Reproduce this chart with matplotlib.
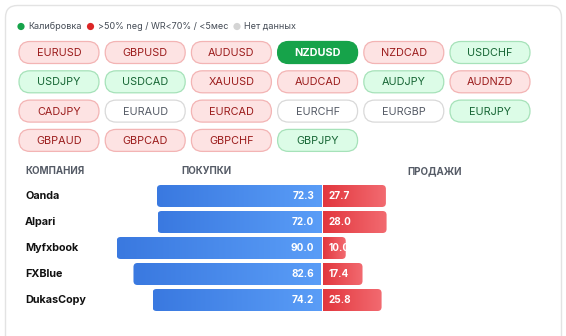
import numpy as np
import matplotlib
matplotlib.use("Agg")
import matplotlib.pyplot as plt
from matplotlib.patches import FancyBboxPatch, Circle
from matplotlib.colors import LinearSegmentedColormap
from matplotlib import transforms

plt.rcParams["font.family"] = ["Inter", "DejaVu Sans"]

# pair selector: name and state
pairs = [
    "EURUSD", "GBPUSD", "AUDUSD", "NZDUSD", "NZDCAD", "USDCHF",
    "USDJPY", "USDCAD", "XAUUSD", "AUDCAD", "AUDJPY", "AUDNZD",
    "CADJPY", "EURAUD", "EURCAD", "EURCHF", "EURGBP", "EURJPY",
    "GBPAUD", "GBPCAD", "GBPCHF", "GBPJPY",
]
states = [
    "red", "red", "red", "selected", "red", "green",
    "green", "green", "red", "red", "green", "red",
    "red", "gray", "red", "gray", "gray", "green",
    "red", "red", "red", "green",
]

# sentiment table
companies = ["Oanda", "Alpari", "Myfxbook", "FXBlue", "DukasCopy"]
buy = [72.3, 72.0, 90.0, 82.6, 74.2]
sell = [27.7, 28.0, 10.0, 17.4, 25.8]

legend_items = ["Калибровка", ">50% neg / WR<70% / <5мес", "Нет данных"]
legend_colors = ["#16a34a", "#dc2626", "#d4d4d4"]

pill_style = {
    "red": dict(fc="#fde3e3", ec="#f3b4b4", tc="#9b1c1c", weight="normal"),
    "green": dict(fc="#dcfce7", ec="#a6e2b9", tc="#166534", weight="normal"),
    "gray": dict(fc="#ffffff", ec="#d9d9d9", tc="#555b66", weight="normal"),
    "selected": dict(fc="#16a34a", ec="#16a34a", tc="#ffffff", weight="bold"),
}

W, H = 566, 336
fig = plt.figure(figsize=(W / 100, H / 100), dpi=100)
bg = fig.add_axes([0, 0, 1, 1])
bg.set_xlim(0, W)
bg.set_ylim(H, 0)
bg.axis("off")

# card
bg.add_patch(FancyBboxPatch((5.5, 5.5), 556, 360, boxstyle="round,pad=0,rounding_size=12",
                            fc="white", ec="#e3e3e3", lw=1))

# legend row
lx = 21
for label, col in zip(legend_items, legend_colors):
    bg.add_patch(Circle((lx, 26.5), 3.6, fc=col, ec="none"))
    t = bg.text(lx + 7, 26.5, label, fontsize=6.5, color="#444b55", va="center", ha="left")
    fig.canvas.draw()
    bb = t.get_window_extent()
    lx = bb.x1 + 9

# pills
for i, (name, st) in enumerate(zip(pairs, states)):
    r, c = divmod(i, 6)
    x0 = 19 + c * 86.2
    yc = 52.5 + r * 29.3
    s = pill_style[st]
    bg.add_patch(FancyBboxPatch((x0, yc - 11), 80, 22, boxstyle="round,pad=0,rounding_size=11",
                                fc=s["fc"], ec=s["ec"], lw=0.9))
    bg.text(x0 + 40, yc + 0.5, name, fontsize=7.8, color=s["tc"], weight=s["weight"],
            ha="center", va="center")

# headers
for x, txt in [(25, "КОМПАНИЯ"), (181, "ПОКУПКИ"), (407, "ПРОДАЖИ")]:
    bg.text(x, 171, txt, fontsize=7, color="#555b66", weight="bold", ha="left", va="center")

# bars axes: center at 322 px, 2.27 px per unit
ax = fig.add_axes([95 / W, 1 - 313 / H, 454 / W, 130 / H])
ax.set_xlim(-100, 100)
ax.set_ylim(len(companies) - 0.5, -0.5)
ax.axis("off")

blue_cmap = LinearSegmentedColormap.from_list("b", ["#3a79e0", "#5a9df7"])
red_cmap = LinearSegmentedColormap.from_list("r", ["#e2373e", "#f26a70"])
grad = np.linspace(0, 1, 64).reshape(1, -1)

px_x = 200 / 454  # data units per px in x
px_y = 5 / 130
aspect = px_y / px_x
rad = 4 * px_x
bh = 22 / 26
gap = 0.45

ypos = np.arange(len(companies))
bbars = ax.barh(ypos, [-b for b in buy], height=bh, left=-gap, visible=False)
rbars = ax.barh(ypos, sell, height=bh, left=gap, visible=False)

for bar, cmap, side in [(b, blue_cmap, -1) for b in bbars] + [(b, red_cmap, 1) for b in rbars]:
    x, y, w, h = bar.get_x(), bar.get_y(), bar.get_width(), bar.get_height()
    xl, xr = min(x, x + w), max(x, x + w)
    # extend the rounded shape past the inner edge so that side stays square
    if side < 0:
        shape = FancyBboxPatch((xl, y), (xr - xl) + 3 * rad, h,
                               boxstyle=f"round,pad=0,rounding_size={rad}",
                               mutation_aspect=aspect, fc="none", ec="none")
    else:
        shape = FancyBboxPatch((xl - 3 * rad, y), (xr - xl) + 3 * rad, h,
                               boxstyle=f"round,pad=0,rounding_size={rad}",
                               mutation_aspect=aspect, fc="none", ec="none")
    ax.add_patch(shape)
    im = ax.imshow(grad, cmap=cmap, aspect="auto", extent=(xl, xr, y + h, y),
                   interpolation="bilinear", zorder=2)
    im.set_clip_path(shape)

ax.set_xlim(-100, 100)
ax.set_ylim(len(companies) - 0.5, -0.5)

for i in ypos:
    ax.text(-gap - 3.0, i, f"{buy[i]:.1f}", color="white", weight="bold", fontsize=7.2,
            ha="right", va="center", zorder=3)
    ax.text(gap + 2.4, i, f"{sell[i]:.1f}", color="white", weight="bold", fontsize=7.2,
            ha="left", va="center", zorder=3, clip_on=True)

# company names aligned with bar rows
tr = transforms.blended_transform_factory(bg.transData, ax.transData)
for i, name in enumerate(companies):
    ax.text(25, i, name, transform=tr, fontsize=7.8, weight="bold", color="#111111",
            ha="left", va="center")

fig.savefig("out.png", dpi=100)
